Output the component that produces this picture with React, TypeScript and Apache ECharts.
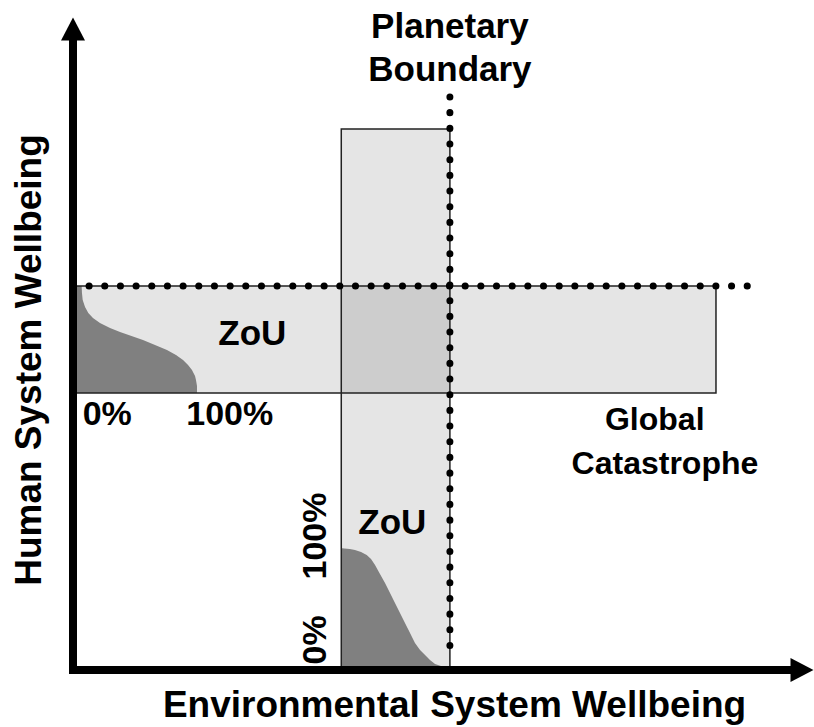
import React, { useEffect, useRef } from "react";
import * as echarts from "echarts";

const FONT = '"Liberation Sans", Arial, Helvetica, sans-serif';

// Axis titles
const xAxisTitle = "Environmental System Wellbeing";
const yAxisTitle = "Human System Wellbeing";

// Zones of uncertainty: [xStart, xEnd, yStart, yEnd] (conceptual 0-100 scale)
const humanZone = [0, 88.2, 43.2, 59.9];
const envZone = [36.8, 51.7, 0, 84.4];

// Boundaries (dotted lines): endpoints
const humanBoundary = [
  [2.2, 59.9],
  [92.6, 59.9],
];
const planetaryBoundary = [
  [51.7, 89.4],
  [51.7, 3.8],
];

// Probability curves inside the zones
const humanCurveX = [1.19, 1.23, 1.33, 1.65, 2.1, 2.74, 3.7, 5.08, 6.45, 9.6, 11.25, 12.89, 14.13, 15.09, 15.78, 16.32, 16.74, 16.87, 17.01, 17.01];
const humanCurveY = [59.91, 58.81, 57.72, 56.63, 55.69, 54.91, 54.13, 53.35, 52.73, 51.48, 50.7, 49.92, 49.14, 48.36, 47.58, 46.8, 45.87, 45.24, 44.31, 43.21];
const envCurveX = [36.86, 37.97, 38.68, 39.51, 40.29, 40.88, 41.43, 42.11, 42.8, 44.17, 45.54, 46.23, 46.91, 47.6, 48.29, 48.97, 49.66, 50.48, 51.44];
const envCurveY = [18.99, 18.88, 18.72, 18.41, 17.94, 17.32, 16.38, 14.98, 13.57, 10.45, 7.33, 5.77, 4.21, 3.12, 2.34, 1.56, 0.94, 0.62, 0.47];

// Annotations
const labelTexts = ["Planetary", "Boundary", "ZoU", "0%", "100%", "Global", "Catastrophe", "ZoU", "100%", "0%"];
const labelX = [51.7, 51.7, 24.6, 4.7, 21.5, 79.8, 81.2, 43.8, 33.1, 33.1];
const labelY = [100.6, 93.9, 52.6, 40.1, 40.1, 39.2, 32.3, 23.2, 20.9, 4.7];
const labelVertical = [false, false, false, false, false, false, false, false, true, true];
const labelFontSize = [35, 35, 35, 34, 34, 32, 32, 35, 34, 34];

export default function App() {
  const ref = useRef<HTMLDivElement | null>(null);

  useEffect(() => {
    if (!ref.current) return;
    const chart = echarts.init(ref.current, null, { renderer: "svg" });

    const rectItem = (fill: string, stroke: string, lineWidth: number) => (params: any, api: any) => {
      const p0 = api.coord([api.value(0), api.value(3)]);
      const p1 = api.coord([api.value(1), api.value(2)]);
      return {
        type: "rect",
        shape: { x: p0[0], y: p0[1], width: p1[0] - p0[0], height: p1[1] - p0[1] },
        style: { fill, stroke, lineWidth },
      };
    };

    const zonesData = [humanZone, envZone];

    const humanPoly = (params: any, api: any) => {
      const pts: number[][] = [];
      pts.push(api.coord([humanZone[0], humanZone[3]]));
      humanCurveX.forEach((x, i) => pts.push(api.coord([x, humanCurveY[i]])));
      pts.push(api.coord([humanZone[0], humanZone[2]]));
      return { type: "polygon", shape: { points: pts }, style: { fill: "#808080" } };
    };

    const envPoly = (params: any, api: any) => {
      const pts: number[][] = [];
      envCurveX.forEach((x, i) => pts.push(api.coord([x, envCurveY[i]])));
      pts.push(api.coord([envZone[1], envCurveY[envCurveY.length - 1]]));
      pts.push(api.coord([envZone[1], envZone[2]]));
      pts.push(api.coord([envZone[0], envZone[2]]));
      pts.push(api.coord([envZone[0], envCurveY[0]]));
      return { type: "polygon", shape: { points: pts }, style: { fill: "#808080" } };
    };

    const textItem = (params: any, api: any) => {
      const i = params.dataIndex;
      const p = api.coord([labelX[i], labelY[i]]);
      return {
        type: "text",
        x: p[0],
        y: p[1],
        rotation: labelVertical[i] ? Math.PI / 2 : 0,
        style: {
          text: labelTexts[i],
          fill: "#000",
          fontSize: labelFontSize[i],
          fontWeight: "bold",
          fontFamily: FONT,
          align: "center",
          verticalAlign: "middle",
        },
      };
    };

    const dotStyle = {
      color: "#000",
      width: 7,
      type: [0.1, 15.57],
      cap: "round",
    };

    const axisCommon = {
      type: "value",
      min: 0,
      max: 100,
      axisTick: { show: false },
      axisLabel: { show: false },
      splitLine: { show: false },
      nameLocation: "middle",
      z: 10,
      nameTextStyle: {
        fontSize: 37,
        fontWeight: "bold",
        fontFamily: FONT,
        color: "#000",
      },
    };

    chart.setOption({
      animation: false,
      backgroundColor: "#fff",
      grid: { left: 73, right: 12, top: 29, bottom: 57, containLabel: false, outerBoundsMode: "none" },
      xAxis: {
        ...axisCommon,
        name: xAxisTitle,
        nameGap: 16,
        nameTextStyle: { ...axisCommon.nameTextStyle, padding: [0, 0, 0, 34] },
        axisLine: {
          show: true,
          onZero: false,
          symbol: ["none", "triangle"],
          symbolSize: [24, 23],
          lineStyle: { color: "#000", width: 8, cap: "square" },
        },
      },
      yAxis: {
        ...axisCommon,
        name: yAxisTitle,
        nameGap: 26,
        nameTextStyle: { ...axisCommon.nameTextStyle, padding: [0, 21, 0, 0] },
        axisLine: {
          show: true,
          onZero: false,
          symbol: ["none", "triangle"],
          symbolSize: [24, 23],
          lineStyle: { color: "#000", width: 8, cap: "square" },
        },
      },
      series: [
        {
          type: "custom",
          name: "zones",
          clip: false,
          silent: true,
          data: zonesData,
          renderItem: rectItem("rgba(0,0,0,0.1)", "none", 0),
          z: 1,
        },
        {
          type: "custom",
          name: "human curve",
          clip: false,
          silent: true,
          data: [[0, 0]],
          renderItem: humanPoly,
          z: 2,
        },
        {
          type: "custom",
          name: "env curve",
          clip: false,
          silent: true,
          data: [[0, 0]],
          renderItem: envPoly,
          z: 2,
        },
        {
          type: "custom",
          name: "zone borders",
          clip: false,
          silent: true,
          data: zonesData,
          renderItem: rectItem("none", "#222", 1.5),
          z: 3,
        },
        {
          type: "line",
          name: "human boundary",
          data: humanBoundary,
          symbol: "none",
          silent: true,
          lineStyle: dotStyle,
          z: 4,
        },
        {
          type: "line",
          name: "planetary boundary",
          data: planetaryBoundary,
          symbol: "none",
          silent: true,
          lineStyle: dotStyle,
          z: 4,
        },
        {
          type: "custom",
          name: "labels",
          clip: false,
          silent: true,
          data: labelTexts.map((_, i) => [labelX[i], labelY[i]]),
          renderItem: textItem,
          z: 5,
        },
      ],
    });

    return () => chart.dispose();
  }, []);

  return (
    <div
      ref={ref}
      style={{ position: "fixed", left: 0, top: 0, width: 814, height: 727, background: "#fff" }}
    />
  );
}
